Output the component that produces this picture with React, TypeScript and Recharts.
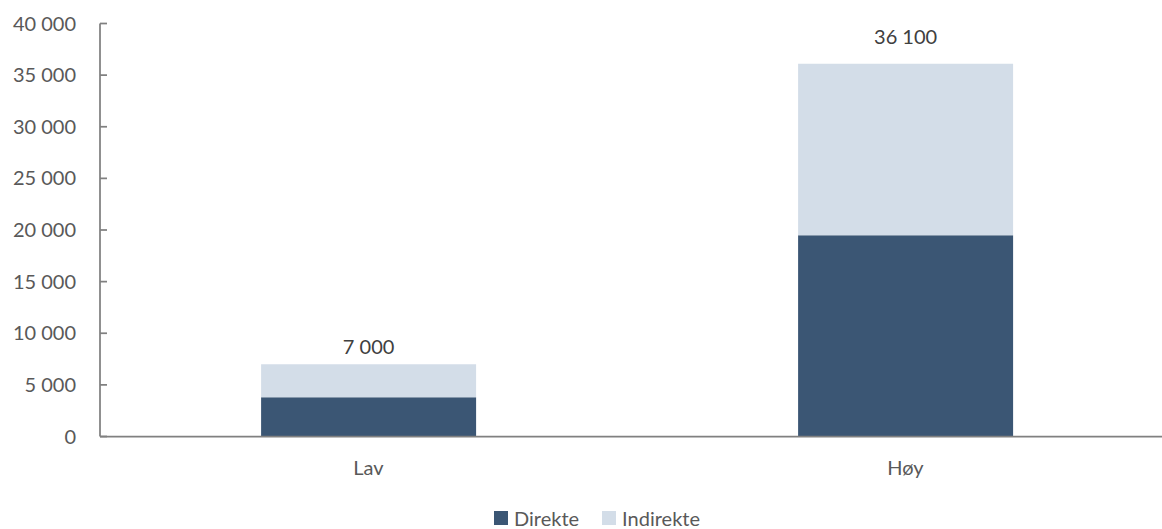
import React from 'react';
import { BarChart, Bar, XAxis, YAxis, Legend, LabelList } from 'recharts';

const categories = ['Lav', 'Høy'];
const direkte = [3800, 19500];
const indirekte = [3200, 16600];
const totals = [7000, 36100];
const yTicks = [0, 5000, 10000, 15000, 20000, 25000, 30000, 35000, 40000];

const data = categories.map((name, i) => ({
  name,
  direkte: direkte[i],
  indirekte: indirekte[i],
  total: totals[i],
}));

const DARK = '#3b5674';
const LIGHT = '#d3dde8';
const AXIS = '#808080';
const FONT = 'Lato, "Open Sans", sans-serif';

const fmt = (v: number) => String(v).replace(/\B(?=(\d{3})+(?!\d))/g, ' ');

const YTick = (props: any) => {
  const { x, y, payload } = props;
  const axisX = x + 24;
  return (
    <g>
      <line x1={axisX} x2={axisX + 7} y1={y} y2={y} stroke={AXIS} strokeWidth={1.75} />
      <text x={x} y={y} dy="0.35em" textAnchor="end" fill="#595959" fontSize={20} fontFamily={FONT}>
        {fmt(payload.value)}
      </text>
    </g>
  );
};

const TotalLabel = (props: any) => {
  const { x, y, width, index } = props;
  const gap = index === 0 ? 10 : 20;
  return (
    <text x={x + width / 2} y={y - gap} textAnchor="middle" fill="#404040" fontSize={20} fontFamily={FONT}>
      {fmt(totals[index])}
    </text>
  );
};

const LegendBox = () => (
  <div style={{ height: 32, display: 'flex', alignItems: 'center', paddingTop: 11, boxSizing: 'border-box', paddingLeft: 494, fontFamily: FONT, fontSize: 20, lineHeight: '20px', color: '#595959' }}>
    <span style={{ display: 'inline-block', width: 14, height: 14, background: DARK }} />
    <span style={{ marginLeft: 6 }}>Direkte</span>
    <span style={{ display: 'inline-block', width: 14, height: 14, background: LIGHT, marginLeft: 23 }} />
    <span style={{ marginLeft: 6 }}>Indirekte</span>
  </div>
);

export default function App() {
  return (
    <div style={{ position: 'absolute', left: 0, top: 0, width: 1162, height: 529, overflow: 'hidden', background: '#fff' }}>
      <BarChart
        width={1174}
        height={529}
        data={data}
        margin={{ top: 23.5, right: 0, left: 0, bottom: 0.5 }}
        barCategoryGap="30%"
      >
        <XAxis
          dataKey="name"
          height={60}
          axisLine={{ stroke: AXIS, strokeWidth: 1.75 }}
          tickLine={false}
          tickSize={0}
          tickMargin={24}
          tick={{ fill: '#595959', fontSize: 20, fontFamily: FONT }}
        />
        <YAxis
          width={100}
          domain={[0, 40000]}
          ticks={yTicks}
          interval={0}
          axisLine={{ stroke: AXIS, strokeWidth: 1.75 }}
          tickLine={false}
          tickSize={0}
          tickMargin={24}
          tick={<YTick />}
        />
        <Legend verticalAlign="bottom" content={<LegendBox />} />
        <Bar dataKey="direkte" name="Direkte" stackId="a" fill={DARK} isAnimationActive={false} />
        <Bar dataKey="indirekte" name="Indirekte" stackId="a" fill={LIGHT} isAnimationActive={false}>
          <LabelList dataKey="total" content={<TotalLabel />} />
        </Bar>
      </BarChart>
    </div>
  );
}
